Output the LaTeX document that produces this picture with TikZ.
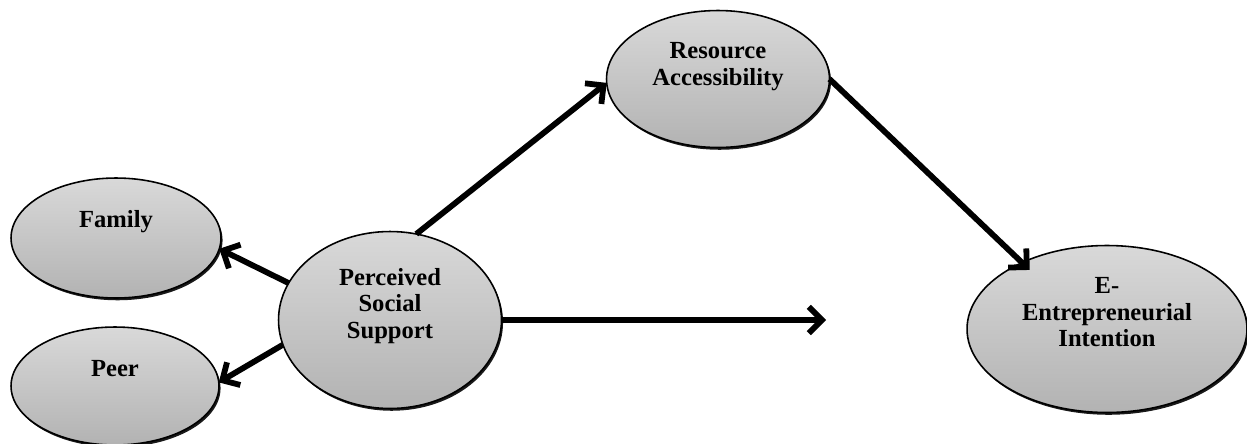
\documentclass[tikz,border=0pt]{standalone}
\usepackage{fontspec}
\setmainfont{Liberation Serif}
\usetikzlibrary{positioning,shapes.geometric,shadows,arrows.meta}

\begin{document}
\begin{tikzpicture}[x=0.02cm,y=-0.02cm,on grid,
    construct/.style={ellipse,draw,line width=0.9pt,inner sep=0pt,outer sep=0pt,
      top color=black!15,bottom color=black!30,
      drop shadow={shadow xshift=0.9pt,shadow yshift=-1.3pt,fill=black,opacity=0.9}},
    lbl/.style={align=center,font=\fontsize{14}{15}\selectfont\bfseries},
    arr/.style={line width=3.3pt,-{Straight Barb[length=7.5pt,width=15pt]}}]
      \useasboundingbox (0,0) rectangle (1247,443);
      \node[construct,minimum width=4.2cm,minimum height=2.4cm] (fam) at (116,238) {};
      \node[construct,minimum width=4.16cm,minimum height=2.36cm] (peer) at (115,386) {};
      \node[construct,minimum width=4.46cm,minimum height=3.54cm] (pss) at (390,320) {};
      \node[construct,minimum width=4.46cm,minimum height=2.74cm] (res) at (718,79) {};
      \node[construct,minimum width=5.6cm,minimum height=3.34cm] (ent) at (1107,329) {};
      \node[lbl,above=9.5pt of fam] (famtxt) {Family};
      \node[lbl,above=10pt of peer] (peertxt) {Peer};
      \node[lbl,above=8pt of pss] (psstxt) {Perceived\\Social\\Support};
      \node[lbl,above=7pt of res] (restxt) {Resource\\Accessibility};
      \node[lbl,above=9.5pt of ent] (enttxt) {E-\\Entrepreneurial\\Intention};
      \coordinate (gap) at (826,320);
      \path[arr]
      (pss.160) edge (fam.354)
      (pss.193) edge (peer.2)
      (pss.73) edge (res.182)
      (res.0) edge[shorten >=-6pt] (ent.142)
      (pss.0) edge (gap)
      ;
    \end{tikzpicture}
\end{document}
